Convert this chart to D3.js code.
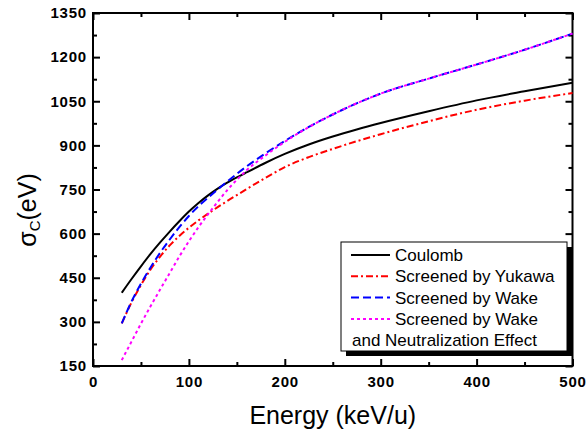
<!DOCTYPE html>
<html>
<head>
  <meta charset="utf-8">
  <title>sigma C vs energy</title>
  <script src="https://d3js.org/d3.v7.min.js"></script>
  <style>
    body { margin: 0; background: #fff; }
    text { font-family: "Liberation Sans", Arial, sans-serif; }
    .tick text { font-weight: bold; font-size: 15px; letter-spacing: 0.8px; fill: #000; }
    .tick line { stroke: #000; stroke-width: 2px; }
    .domain { display: none; }
  </style>
</head>
<body>
  <div id="chart"></div>
  <script>
// energies (keV/u) and sigma_C (eV)
var energy = [30, 40, 50, 60, 70, 80, 90, 100, 110, 120, 130, 140, 150, 160, 180, 200, 225, 250, 275, 300, 350, 400, 450, 500];
var coulomb = [399, 445, 489, 531, 570, 607, 642, 675, 704, 730, 753, 773, 791, 808, 841, 871, 903, 930, 954, 976, 1016, 1053, 1084, 1113];
var yukawa  = [295, 365, 425, 478, 522, 560, 592, 620, 645, 668, 690, 711, 731, 751, 790, 826, 860, 888, 914, 938, 982, 1021, 1052, 1078];
var wake    = [295, 368, 430, 485, 535, 580, 622, 660, 693, 722, 750, 777, 803, 828, 873, 915, 963, 1005, 1043, 1076, 1127, 1175, 1225, 1280];
var wakeNeutral = [170, 232, 294, 353, 410, 466, 522, 574, 622, 666, 708, 748, 783, 815, 866, 912, 962, 1005, 1043, 1076, 1127, 1175, 1225, 1280];

var xMajor = [0, 100, 200, 300, 400, 500];
var xMinor = [50, 150, 250, 350, 450];
var yMajor = [150, 300, 450, 600, 750, 900, 1050, 1200, 1350];
var yMinor = [225, 375, 525, 675, 825, 975, 1125, 1275];

var series = [
  {name: "Coulomb", values: coulomb, color: "#000000", dash: null},
  {name: "Screened by Yukawa", values: yukawa, color: "#ff0000", dash: "7,3,2,3"},
  {name: "Screened by Wake", values: wake, color: "#0000ff", dash: "8,4"},
  {name: "Screened by Wake", values: wakeNeutral, color: "#ff00ff", dash: "3,3"}
];

var margin = {top: 13, right: 15.5, bottom: 69, left: 93},
    width = 588 - margin.left - margin.right,
    height = 435 - margin.top - margin.bottom;

var svg = d3.select("#chart")
  .append("svg")
    .attr("width", 588)
    .attr("height", 435)
  .append("g")
    .attr("transform", "translate(" + margin.left + "," + margin.top + ")");

var x = d3.scaleLinear().domain([0, 500]).range([0, width]);
var y = d3.scaleLinear().domain([150, 1350]).range([height, 0]);

// major ticks with labels
svg.append("g")
  .attr("transform", "translate(0," + height + ")")
  .call(d3.axisBottom(x).tickValues(xMajor).tickSize(-7).tickPadding(10).tickFormat(d3.format("d")));
svg.append("g")
  .call(d3.axisLeft(y).tickValues(yMajor).tickSize(-7).tickPadding(6).tickFormat(d3.format("d")));

// minor ticks
svg.append("g")
  .attr("transform", "translate(0," + height + ")")
  .call(d3.axisBottom(x).tickValues(xMinor).tickSize(-4).tickFormat(""));
svg.append("g")
  .call(d3.axisLeft(y).tickValues(yMinor).tickSize(-4).tickFormat(""));

// top and right: ticks only
svg.append("g").call(d3.axisTop(x).tickValues(xMajor).tickSize(-7).tickFormat(""));
svg.append("g").call(d3.axisTop(x).tickValues(xMinor).tickSize(-4).tickFormat(""));
svg.append("g").attr("transform", "translate(" + width + ",0)")
  .call(d3.axisRight(y).tickValues(yMajor).tickSize(-7).tickFormat(""));
svg.append("g").attr("transform", "translate(" + width + ",0)")
  .call(d3.axisRight(y).tickValues(yMinor).tickSize(-4).tickFormat(""));

// frame
svg.append("rect")
  .attr("width", width).attr("height", height)
  .attr("fill", "none").attr("stroke", "#000").attr("stroke-width", 2);

// curves
var line = d3.line()
  .x(function(d) { return x(d[0]); })
  .y(function(d) { return y(d[1]); })
  .curve(d3.curveMonotoneX);

series.forEach(function(s) {
  svg.append("path")
    .datum(energy.map(function(e, i) { return [e, s.values[i]]; }))
    .attr("fill", "none")
    .attr("stroke", s.color)
    .attr("stroke-width", 2)
    .attr("stroke-dasharray", s.dash)
    .attr("d", line);
});

// axis titles
svg.append("text")
  .attr("x", width / 2)
  .attr("y", height + 58)
  .attr("text-anchor", "middle")
  .style("font-size", "25px")
  .text("Energy (keV/u)");

var yt = svg.append("text")
  .attr("transform", "translate(" + (36 - margin.left) + "," + (210 - margin.top) + ") rotate(-90)")
  .attr("text-anchor", "middle")
  .style("font-size", "25px");
yt.append("tspan").text("\u03C3");
yt.append("tspan").attr("baseline-shift", "-25%").style("font-size", "15px").text("C");
yt.append("tspan").text("(eV)");

// legend
var lg = svg.append("g").attr("transform", "translate(" + (341 - margin.left) + "," + (242 - margin.top) + ")");
lg.append("rect").attr("x", 5).attr("y", 5).attr("width", 226).attr("height", 109).attr("fill", "#000");
lg.append("rect").attr("width", 226).attr("height", 109).attr("fill", "#fff").attr("stroke", "#000").attr("stroke-width", 1);

series.forEach(function(s, i) {
  var ry = 13 + i * 21.3;
  lg.append("line")
    .attr("x1", 10).attr("x2", 49).attr("y1", ry).attr("y2", ry)
    .attr("stroke", s.color).attr("stroke-width", 2)
    .attr("stroke-dasharray", s.dash);
  lg.append("text")
    .attr("x", 54).attr("y", ry)
    .attr("dy", "0.35em")
    .style("font-size", "17px")
    .text(s.name);
});
lg.append("text")
  .attr("x", 11).attr("y", 13 + 4 * 21.3)
  .attr("dy", "0.35em")
  .style("font-size", "17px")
  .text("and Neutralization Effect");
  </script>
</body>
</html>
